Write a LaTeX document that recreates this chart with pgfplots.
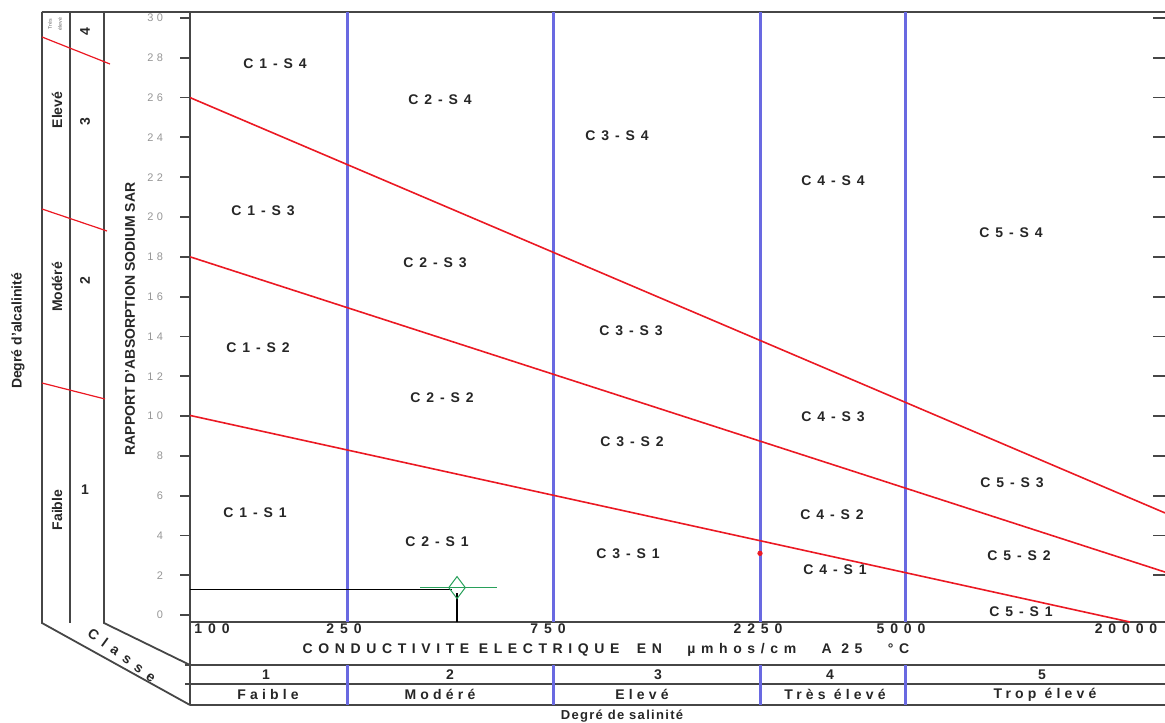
\documentclass[border=0pt]{standalone}
\usepackage{pgfplots}
\pgfplotsset{compat=1.18}
\usepackage{fontspec}
\setmainfont{Liberation Sans}
\newfontfamily\lsA[LetterSpace=42]{Liberation Sans}
\newfontfamily\lsR[LetterSpace=30]{Liberation Sans}
\newfontfamily\lsX[LetterSpace=40]{Liberation Sans}
\newfontfamily\lsS[LetterSpace=10]{Liberation Sans}
\newfontfamily\lsC[LetterSpace=50]{Liberation Sans}
\definecolor{vblue}{RGB}{105,105,225}
\definecolor{lred}{RGB}{235,25,35}
\definecolor{tgray}{RGB}{150,150,150}
\definecolor{mgreen}{RGB}{40,160,90}
\definecolor{frame}{RGB}{70,70,70}
\newcommand{\fReg}{\lsA\bfseries\fontsize{7pt}{8pt}\selectfont}
\newcommand{\fRow}{\lsR\bfseries\fontsize{7pt}{8pt}\selectfont}
\newcommand{\fPlain}{\bfseries\fontsize{7pt}{8pt}\selectfont}
\begin{document}
\begin{tikzpicture}
\path[use as bounding box] (0,0) rectangle (582.5pt,-361pt);
\begin{scope}[x=0.5pt,y=-0.5pt]
 % frame lines
 \draw[frame, line width=0.9pt] (42,12) -- (1165,12);
 \draw[frame, line width=0.9pt] (42,12) -- (42,623) -- (190,705);
 \draw[frame, line width=0.9pt] (70,12) -- (70,623);
 \draw[frame, line width=0.9pt] (104,12) -- (104,623) -- (190,665);
 \draw[frame, line width=0.9pt] (190,12) -- (190,705);
 \draw[frame, line width=0.9pt] (190,622) -- (1165,622);
 \draw[frame, line width=0.9pt] (185,665) -- (1165,665);
 \draw[frame, line width=0.9pt] (185,684) -- (1165,684);
 \draw[frame, line width=0.9pt] (190,705) -- (1165,705);
 \foreach \x in {347,553,760,905} \draw[vblue, line width=1.5pt] (\x,665) -- (\x,705);
 % alkalinity panel slants
 \draw[lred, line width=0.6pt] (42,37) -- (110,64);
 \draw[lred, line width=0.6pt] (42,209) -- (107,231);
 \draw[lred, line width=0.6pt] (42,383) -- (105,399);
 % left panel texts
 \node[rotate=90, font=\fPlain, text=black!85] at (18,331) {Degré d'alcalinité};
 \node[rotate=90, font=\fPlain, text=black!85] at (57,510) {Faible};
 \node[rotate=90, font=\fPlain, text=black!85] at (57,287) {Modéré};
 \node[rotate=90, font=\fPlain, text=black!85] at (57,110) {Elevé};
 \node[rotate=90, font=\fontsize{2.6pt}{3pt}\selectfont, text=black!60, align=center, inner sep=0pt] at (55,24) {Très\\[2pt]élevé};
 \node[font=\fPlain, text=black!85] at (85,490) {1};
 \node[rotate=90, font=\fPlain, text=black!85] at (85,281) {2};
 \node[rotate=90, font=\fPlain, text=black!85] at (85,122) {3};
 \node[rotate=90, font=\fPlain, text=black!85] at (85,32) {4};
 \node[rotate=90, font=\fPlain, text=black!85] at (130,319) {RAPPORT D'ABSORPTION SODIUM SAR};
 \node[rotate=-36, font=\lsC\bfseries\fontsize{7pt}{8pt}\selectfont, text=black!85] at (122,655) {Classe};
 % x label
 \node[font=\lsX\bfseries\fontsize{7pt}{8pt}\selectfont, text=black!85] at (606,650) {CONDUCTIVITE ELECTRIQUE\hspace{4pt} EN\hspace{8pt} µmhos/cm\hspace{8pt} A 25\hspace{8pt} °C};
 % rows
 \node[font=\fRow, text=black!85] at (266,674.5) {1};
 \node[font=\fRow, text=black!85] at (450,674.5) {2};
 \node[font=\fRow, text=black!85] at (658,674.5) {3};
 \node[font=\fRow, text=black!85] at (830,674.5) {4};
 \node[font=\fRow, text=black!85] at (1042,674.5) {5};
 \node[font=\fRow, text=black!85] at (268,694.5) {Faible};
 \node[font=\fRow, text=black!85] at (440,694.5) {Modéré};
 \node[font=\fRow, text=black!85] at (642,694.5) {Elevé};
 \node[font=\fRow, text=black!85] at (835,694.5) {Très élevé};
 \node[font=\fRow, text=black!85] at (1045,694.5) {Trop élevé};
 \node[font=\lsS\bfseries\fontsize{6.5pt}{7pt}\selectfont, text=black!85] at (622,716) {Degré de salinité};
\end{scope}

% right-side tick marks
\begin{axis}[
  at={(95pt,-311pt)}, anchor=south west, scale only axis,
  width=487.5pt, height=305pt,
  xmin=190, xmax=1165, ymin=-0.35, ymax=30.3,
  axis y line=right, axis x line=none, axis line style={draw=none},
  ytick={2,4,...,30}, yticklabels={},
  tick align=inside, major tick length=6pt,
  y tick style={frame, line width=0.9pt},
]
\end{axis}

\begin{axis}[
  at={(95pt,-311pt)}, anchor=south west, scale only axis,
  width=487.5pt, height=305pt,
  xmin=190, xmax=1165, ymin=-0.35, ymax=30.3,
  axis x line=bottom, axis y line=left, axis line style={draw=none},
  xtick={212,344,548,758,901,1126},
  xticklabels={100,250,750,2250,5000,20000},
  x tick style={draw=none},
  xticklabel style={font=\lsA\bfseries\fontsize{7pt}{8pt}\selectfont, text=black!85, anchor=north, inner sep=0pt, yshift=4.5pt},
  ytick={0,2,...,30},
  y tick style={frame, line width=0.9pt},
  tick align=outside, major tick length=5pt,
  yticklabel style={font=\lsR\fontsize{5.5pt}{6pt}\selectfont, text=tgray, xshift=-5pt},
  /pgf/number format/assume math mode=true,
]
% blue class boundaries
\addplot[vblue, line width=1.5pt] coordinates {(347,-0.35) (347,30.3)};
\addplot[vblue, line width=1.5pt] coordinates {(553,-0.35) (553,30.3)};
\addplot[vblue, line width=1.5pt] coordinates {(760,-0.35) (760,30.3)};
\addplot[vblue, line width=1.5pt] coordinates {(905,-0.35) (905,30.3)};
% red SAR boundaries
\addplot[lred, line width=0.8pt] coordinates {(190,10.03) (1130,-0.35)};
\addplot[lred, line width=0.8pt] coordinates {(190,18.0) (1165,2.16)};
\addplot[lred, line width=0.8pt] coordinates {(190,26.0) (1165,5.13)};
% sample reading lines
\addplot[black, line width=0.6pt] coordinates {(190,1.3) (452,1.3)};
\addplot[black, line width=0.7pt] coordinates {(457,1.1) (457,-0.35)};
\addplot[mgreen, line width=0.6pt] coordinates {(420,1.38) (497,1.38)};
\addplot[only marks, mark=diamond, mark size=5.5pt, mark options={draw=mgreen, fill=white, line width=0.5pt}] coordinates {(457,1.38)};
\addplot[only marks, mark=*, mark size=1.1pt, lred] coordinates {(760,3.1)};
% region labels
\node[font=\fReg, text=black!85] at (axis cs:275,27.7) {C1-S4};
\node[font=\fReg, text=black!85] at (axis cs:440,25.9) {C2-S4};
\node[font=\fReg, text=black!85] at (axis cs:617,24.1) {C3-S4};
\node[font=\fReg, text=black!85] at (axis cs:833,21.8) {C4-S4};
\node[font=\fReg, text=black!85] at (axis cs:1011,19.2) {C5-S4};
\node[font=\fReg, text=black!85] at (axis cs:263,20.3) {C1-S3};
\node[font=\fReg, text=black!85] at (axis cs:435,17.7) {C2-S3};
\node[font=\fReg, text=black!85] at (axis cs:631,14.3) {C3-S3};
\node[font=\fReg, text=black!85] at (axis cs:833,9.95) {C4-S3};
\node[font=\fReg, text=black!85] at (axis cs:1012,6.65) {C5-S3};
\node[font=\fReg, text=black!85] at (axis cs:258,13.45) {C1-S2};
\node[font=\fReg, text=black!85] at (axis cs:442,10.9) {C2-S2};
\node[font=\fReg, text=black!85] at (axis cs:632,8.7) {C3-S2};
\node[font=\fReg, text=black!85] at (axis cs:832,5.03) {C4-S2};
\node[font=\fReg, text=black!85] at (axis cs:1019,2.96) {C5-S2};
\node[font=\fReg, text=black!85] at (axis cs:255,5.15) {C1-S1};
\node[font=\fReg, text=black!85] at (axis cs:437,3.7) {C2-S1};
\node[font=\fReg, text=black!85] at (axis cs:628,3.1) {C3-S1};
\node[font=\fReg, text=black!85] at (axis cs:835,2.26) {C4-S1};
\node[font=\fReg, text=black!85] at (axis cs:1021,0.15) {C5-S1};
\end{axis}
\end{tikzpicture}
\end{document}
